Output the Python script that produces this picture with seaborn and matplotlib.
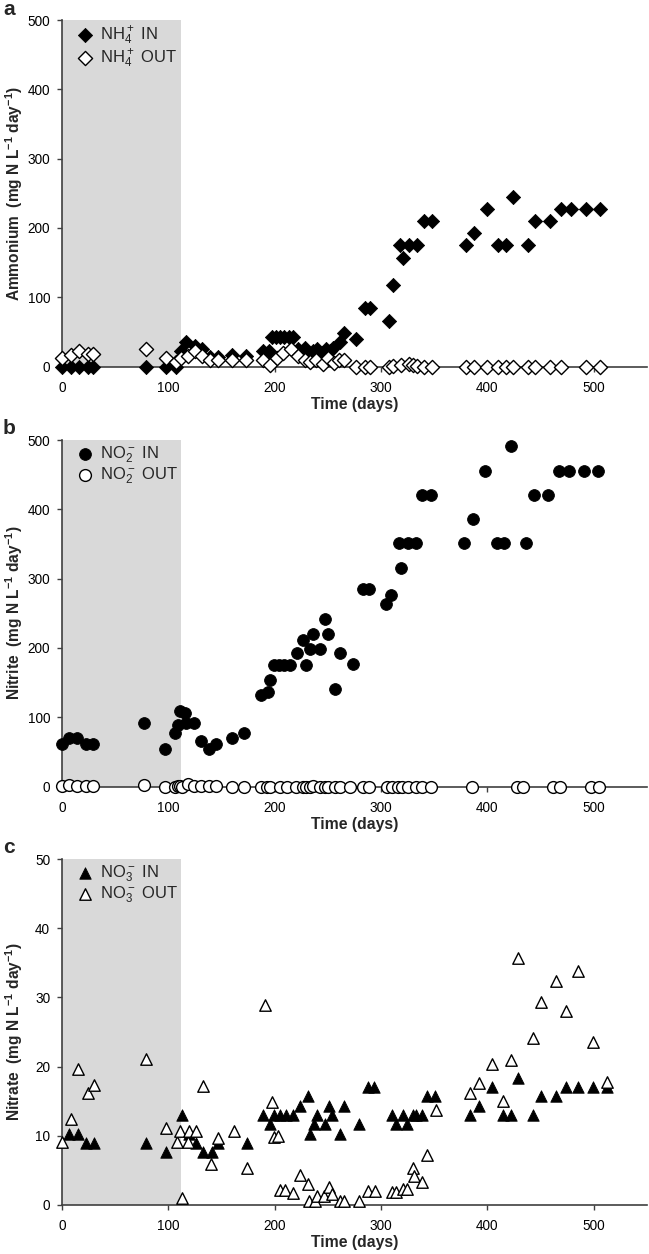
import matplotlib
matplotlib.use("Agg")
import matplotlib.pyplot as plt
import seaborn as sns

sns.set_style("ticks")
plt.rcParams["font.family"] = ["Liberation Sans", "DejaVu Sans"]
plt.rcParams["mathtext.default"] = "regular"

# ---------------- data ----------------
# Panel a: ammonium
nh4_in_days = [0, 8, 16, 24, 29, 79, 98, 107, 112, 117, 125, 132, 139, 147, 160, 173,
               189, 195, 197, 201, 205, 209, 213, 217, 222, 228, 232, 236, 240, 244, 248,
               252, 255, 261, 265, 276, 285, 290, 307, 311, 318, 321, 326, 334, 340, 348,
               380, 387, 400, 410, 417, 424, 438, 445, 459, 469, 479, 493, 506]
nh4_in_vals = [0, 0, 0, 0, 0, 0, 0, 0, 23, 36, 30, 25, 14, 14, 17, 15,
               22, 22, 43, 43, 43, 43, 43, 43, 25, 27, 20, 22, 25, 20, 25,
               23, 27, 35, 48, 39, 85, 85, 65, 118, 175, 157, 175, 175, 210, 210,
               175, 193, 227, 175, 175, 245, 175, 210, 210, 227, 227, 227, 227]
nh4_out_days = [0, 8, 16, 24, 29, 79, 98, 107, 112, 118, 125, 132, 139, 147, 160, 173,
                189, 196, 202, 208, 215, 222, 228, 233, 239, 245, 250, 256, 260, 265,
                276, 285, 290, 307, 311, 319, 326, 330, 334, 340, 348,
                380, 387, 400, 410, 417, 424, 438, 445, 459, 469, 493, 506]
nh4_out_vals = [12, 17, 23, 18, 18, 25, 12, 7, 12, 15, 23, 15, 9, 9, 9, 9,
                10, 2, 12, 19, 25, 15, 9, 7, 9, 4, 12, 5, 10, 9,
                0, 0, 0, 0, 1, 2, 3, 2, 1, 0, 0,
                0, 0, 0, 0, 0, 0, 0, 0, 0, 0, 0, 0]

# Panel b: nitrite
no2_in_days = [0, 7, 14, 23, 29, 77, 97, 106, 109, 111, 116, 117, 124, 131, 138, 145,
               160, 171, 187, 194, 196, 199, 204, 209, 214, 221, 227, 229, 233, 236, 243,
               247, 250, 257, 261, 274, 283, 289, 305, 309, 319, 317, 325, 333, 338, 347,
               378, 386, 398, 409, 416, 422, 436, 444, 457, 467, 477, 491, 504]
no2_in_vals = [62, 70, 70, 62, 62, 92, 54, 77, 89, 109, 106, 92, 92, 66, 54, 62,
               70, 77, 132, 137, 154, 175, 175, 175, 175, 193, 211, 176, 198, 220, 198,
               241, 220, 141, 193, 177, 285, 285, 263, 277, 316, 351, 351, 351, 421, 421,
               351, 386, 455, 351, 351, 491, 351, 421, 421, 455, 455, 455, 455]
no2_out_days = [0, 7, 14, 23, 29, 77, 97, 106, 109, 111, 113, 118, 124, 131, 138, 145,
                160, 171, 187, 193, 196, 205, 212, 220, 227, 229, 233, 236, 243, 247,
                250, 257, 261, 271, 283, 289, 306, 310, 316, 320, 325, 333, 338, 347,
                385, 428, 433, 462, 468, 497, 505]
no2_out_vals = [1, 2, 1, 1, 1, 2, 0, 0, 1, 1, 0, 4, 1, 1, 1, 1,
                0, 0, 0, 0, 0, 0, 0, 0, 0, 0, 0, 1, 0, 0,
                0, 0, 0, 0, 0, 0, 0, 0, 0, 0, 0, 0, 0, 0,
                0, 0, 0, 0, 0, 0, 0]

# Panel c: nitrate
no3_in_days = [7, 15, 23, 30, 79, 98, 113, 119, 126, 133, 141, 147, 174, 189, 196,
               199, 205, 211, 217, 224, 231, 233, 237, 240, 247, 251, 254, 261, 265,
               279, 288, 293, 310, 314, 321, 324, 330, 333, 338, 343, 351,
               384, 392, 404, 415, 422, 429, 443, 450, 464, 474, 485, 499, 512]
no3_in_vals = [10.3, 10.3, 9.0, 9.0, 9.0, 7.7, 13.0, 10.3, 9.0, 7.7, 7.7, 9.0, 9.0, 13.0, 11.7,
               13.0, 13.0, 13.0, 13.0, 14.3, 15.7, 10.3, 11.7, 13.0, 11.7, 14.3, 13.0, 10.3, 14.3,
               11.7, 17.0, 17.0, 13.0, 11.7, 13.0, 11.7, 13.0, 13.0, 13.0, 15.7, 15.7,
               13.0, 14.3, 17.0, 13.0, 13.0, 18.3, 13.0, 15.7, 15.7, 17.0, 17.0, 17.0, 17.0]
no3_out_days = [0, 8, 15, 24, 30, 79, 98, 108, 111, 113, 118, 119, 126, 133, 140, 147,
                162, 174, 191, 197, 199, 203, 205, 210, 217, 224, 231, 232, 238, 240,
                246, 251, 254, 261, 265, 279, 288, 294, 310, 314, 321, 324, 330, 331,
                338, 343, 352, 384, 392, 404, 415, 422, 429, 443, 450, 464, 474, 485,
                499, 512]
no3_out_vals = [9.1, 12.4, 19.6, 16.1, 17.4, 21.1, 11.1, 9.1, 10.6, 0.9, 9.1, 10.6, 10.6, 17.2, 5.9, 9.6,
                10.6, 5.3, 28.9, 14.8, 9.8, 9.9, 2.2, 2.1, 1.7, 4.3, 3.0, 0.6, 0.6, 1.3,
                1.2, 2.6, 1.6, 0.6, 0.6, 0.5, 2.0, 2.0, 1.8, 1.9, 2.3, 2.3, 5.3, 4.2,
                3.3, 7.2, 13.7, 16.2, 17.6, 20.4, 15.0, 20.9, 35.7, 24.1, 29.3, 32.4, 28.1, 33.8,
                23.5, 17.7]

x_ticks = [0, 100, 200, 300, 400, 500]
startup_end = 112

# ---------------- figure ----------------
W, H = 649, 1254
fig = plt.figure(figsize=(W / 100, H / 100), dpi=100)

left = 62 / W
width = 585 / W
ax_a = fig.add_axes([left, 1 - 366.5 / H, width, 346.5 / H])
ax_b = fig.add_axes([left, 1 - 786.5 / H, width, 346.5 / H])
ax_c = fig.add_axes([left, 1 - 1204.7 / H, width, 345.4 / H])

spine_col = "#3f3f3f"


def draw_panel(ax, d_in, v_in, d_out, v_out, marker, size, lab_in, lab_out,
               ymax, ystep, ylabel, letter, letter_y):
    ax.axvspan(0, startup_end, color="#d9d9d9", lw=0, zorder=0)
    sns.scatterplot(x=d_in, y=v_in, ax=ax, marker=marker, s=size, color="black",
                    edgecolor="black", linewidth=0.6, label=lab_in, clip_on=False, zorder=3)
    sns.scatterplot(x=d_out, y=v_out, ax=ax, marker=marker, s=size, color="white",
                    edgecolor="black", linewidth=1.0, label=lab_out, clip_on=False, zorder=4)
    ax.set_xlim(0, 550)
    ax.set_ylim(0, ymax)
    ax.set_xticks(x_ticks)
    ax.set_yticks(list(range(0, ymax + 1, ystep)))
    sns.despine(ax=ax)
    for sp in ("left", "bottom"):
        ax.spines[sp].set_color(spine_col)
        ax.spines[sp].set_linewidth(1.2)
    ax.tick_params(axis="both", direction="out", length=3.5, width=1.0, color=spine_col,
                   labelsize=9.8, labelcolor="black")
    ax.tick_params(axis="x", pad=7)
    ax.tick_params(axis="y", pad=5)
    ax.set_xlabel("Time (days)", fontweight="bold", fontsize=11.3)
    ax.xaxis.set_label_coords(0.5, -0.088)
    ax.set_ylabel(ylabel, fontweight="bold", fontsize=11.2)
    ax.yaxis.set_label_coords(-0.064, 0.5)
    ax.legend(loc="upper left", bbox_to_anchor=(0.028, 0.988), frameon=False,
              fontsize=12, handlelength=0.8, handletextpad=0.5, borderpad=0,
              borderaxespad=0, labelspacing=0.05)
    fig.text(3 / W, 1 - letter_y / H, letter, fontweight="bold", fontsize=15,
             va="baseline", ha="left")


draw_panel(ax_a, nh4_in_days, nh4_in_vals, nh4_out_days, nh4_out_vals, "D", 52,
           r"NH$_4^+$ IN", r"NH$_4^+$ OUT", 500, 100,
           r"Ammonium  (mg N L$^{-1}$ day$^{-1}$)", "a", 15)
draw_panel(ax_b, no2_in_days, no2_in_vals, no2_out_days, no2_out_vals, "o", 72,
           r"NO$_2^-$ IN", r"NO$_2^-$ OUT", 500, 100,
           r"Nitrite  (mg N L$^{-1}$ day$^{-1}$)", "b", 434)
draw_panel(ax_c, no3_in_days, no3_in_vals, no3_out_days, no3_out_vals, "^", 68,
           r"NO$_3^-$ IN", r"NO$_3^-$ OUT", 50, 10,
           r"Nitrate  (mg N L$^{-1}$ day$^{-1}$)", "c", 853)

fig.savefig("out.png", dpi=100)
